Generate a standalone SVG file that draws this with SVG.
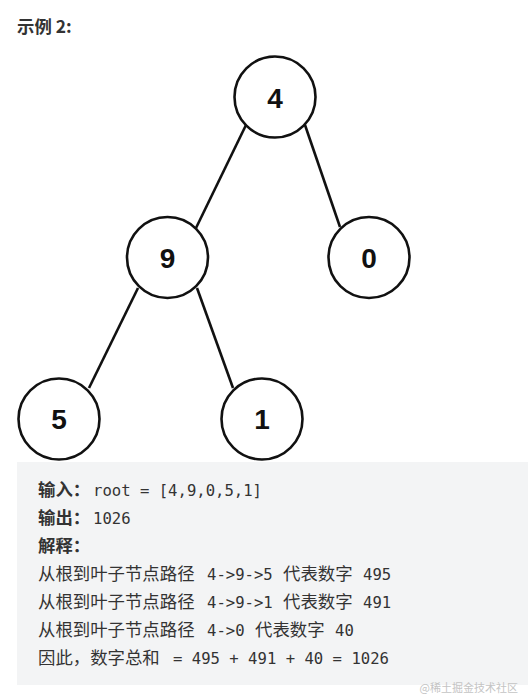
<svg xmlns="http://www.w3.org/2000/svg" width="528" height="699" viewBox="0 0 528 699">
<style>
.node circle{fill:#fff;stroke:#111;stroke-width:2.6}
.node text{font-family:"Liberation Sans",Arial,sans-serif;font-weight:bold;font-size:28px;fill:#111;text-anchor:middle}
.edges line{stroke:#111;stroke-width:2.6}
.cn{font-family:"Noto Sans CJK SC","Noto Sans",sans-serif;font-size:17.4px;fill:#333}
.b{font-weight:bold}
.mono{font-family:"DejaVu Sans Mono","Liberation Mono",monospace;font-size:15.6px;fill:#333}
</style>
<rect width="528" height="699" fill="#fff"/>
<text x="17" y="33" class="cn b" fill="#222">示例 2:</text>
<g class="edges">
<line x1="246" y1="125" x2="196" y2="228"/>
<line x1="305" y1="125" x2="340" y2="227"/>
<line x1="138" y1="288" x2="89" y2="388"/>
<line x1="197" y1="288" x2="233" y2="388"/>
</g>
<g id="n4" class="node"><circle cx="275" cy="97" r="40.5"/><text x="275" y="107.5">4</text></g>
<g id="n9" class="node"><circle cx="167.5" cy="257.5" r="40.5"/><text x="167.5" y="268">9</text></g>
<g id="n0" class="node"><circle cx="369" cy="257.5" r="40.5"/><text x="369" y="268">0</text></g>
<g id="n5" class="node"><circle cx="59" cy="419" r="40.5"/><text x="59" y="429">5</text></g>
<g id="n1" class="node"><circle cx="262" cy="419" r="40.5"/><text x="262" y="429">1</text></g>
<rect x="17" y="462" width="511" height="223" fill="#f3f4f5"/>
<text x="38" y="496" class="cn b">输入：</text><text x="93" y="496" class="mono">root = [4,9,0,5,1]</text>
<text x="38" y="524" class="cn b">输出：</text><text x="93" y="524" class="mono">1026</text>
<text x="38" y="552" class="cn b">解释：</text>
<text x="38" y="580" class="cn">从根到叶子节点路径</text><text x="207" y="580" class="mono">4-&gt;9-&gt;5</text><text x="283" y="580" class="cn">代表数字</text><text x="363" y="580" class="mono">495</text>
<text x="38" y="608" class="cn">从根到叶子节点路径</text><text x="207" y="608" class="mono">4-&gt;9-&gt;1</text><text x="283" y="608" class="cn">代表数字</text><text x="363" y="608" class="mono">491</text>
<text x="38" y="636" class="cn">从根到叶子节点路径</text><text x="207" y="636" class="mono">4-&gt;0</text><text x="255" y="636" class="cn">代表数字</text><text x="335" y="636" class="mono">40</text>
<text x="38" y="664" class="cn">因此，数字总和</text><text x="173" y="664" class="mono">= 495 + 491 + 40 = 1026</text>
<text x="518" y="692" text-anchor="end" font-family="Noto Sans CJK SC,sans-serif" font-size="11" fill="#c4c4c4">@稀土掘金技术社区</text>
</svg>
